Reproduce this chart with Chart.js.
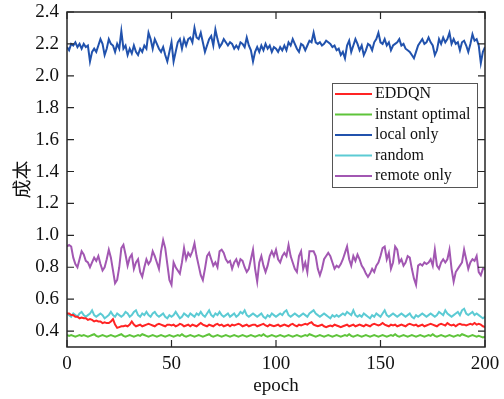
<!DOCTYPE html>
<html>
<head>
<meta charset="utf-8">
<script src="https://cdn.jsdelivr.net/npm/chart.js@4.4.1/dist/chart.umd.min.js"></script>
<style>
html,body{margin:0;padding:0;background:#fff;}
#wrap{position:relative;width:504px;height:399px;}
</style>
</head>
<body>
<div id="wrap"><canvas id="c" width="504" height="399"></canvas></div>
<script>
const seriesNames = ["EDDQN", "instant optimal", "local only", "random", "remote only"];
const seriesColors = ["#ff2424", "#5ec43a", "#2152ad", "#5ccbd4", "#a257b2"];
const xTicks = [0, 50, 100, 150, 200];
const yTicks = [0.4, 0.6, 0.8, 1.0, 1.2, 1.4, 1.6, 1.8, 2.0, 2.2, 2.4];
const xTitle = "epoch";
const yTitle = "成本";

const eddqn = [
0.51,0.51,0.50,0.50,0.49,0.49,0.48,0.485,0.48,0.48,
0.47,0.475,0.47,0.46,0.465,0.46,0.46,0.45,0.455,0.45,
0.45,0.46,0.475,0.44,0.42,0.425,0.43,0.43,0.435,0.43,
0.44,0.46,0.44,0.43,0.435,0.44,0.43,0.435,0.44,0.445,
0.44,0.435,0.43,0.44,0.445,0.44,0.435,0.43,0.44,0.44,
0.435,0.44,0.43,0.435,0.445,0.44,0.43,0.435,0.44,0.43,
0.44,0.435,0.43,0.44,0.45,0.44,0.435,0.43,0.44,0.435,
0.43,0.44,0.445,0.435,0.44,0.43,0.435,0.44,0.43,0.44,
0.435,0.44,0.445,0.44,0.43,0.435,0.44,0.43,0.435,0.44,
0.44,0.43,0.435,0.44,0.445,0.435,0.43,0.44,0.435,0.43,
0.435,0.44,0.43,0.435,0.44,0.435,0.43,0.44,0.445,0.435,
0.43,0.44,0.435,0.44,0.445,0.44,0.45,0.455,0.44,0.435,
0.43,0.435,0.44,0.43,0.425,0.43,0.435,0.43,0.44,0.435,
0.43,0.425,0.43,0.435,0.44,0.43,0.435,0.44,0.43,0.435,
0.44,0.435,0.43,0.44,0.435,0.43,0.44,0.445,0.44,0.435,
0.44,0.45,0.44,0.435,0.43,0.44,0.435,0.44,0.43,0.435,
0.44,0.435,0.43,0.44,0.445,0.44,0.435,0.44,0.43,0.435,
0.44,0.43,0.435,0.44,0.445,0.44,0.435,0.43,0.44,0.445,
0.44,0.435,0.45,0.44,0.435,0.44,0.43,0.44,0.445,0.44,
0.44,0.435,0.44,0.445,0.44,0.45,0.44,0.445,0.44,0.43,
0.425];

const instantOptimal = [
0.375,0.37,0.375,0.37,0.365,0.37,0.375,0.37,0.375,0.37,
0.365,0.37,0.375,0.38,0.37,0.365,0.37,0.375,0.37,0.365,
0.37,0.375,0.37,0.365,0.37,0.375,0.38,0.37,0.365,0.37,
0.375,0.37,0.365,0.37,0.375,0.37,0.38,0.375,0.37,0.365,
0.37,0.375,0.37,0.365,0.37,0.375,0.37,0.365,0.37,0.375,
0.37,0.365,0.37,0.375,0.37,0.38,0.37,0.365,0.37,0.375,
0.37,0.365,0.37,0.375,0.37,0.365,0.37,0.375,0.38,0.37,
0.365,0.37,0.375,0.37,0.365,0.37,0.375,0.37,0.365,0.37,
0.375,0.37,0.365,0.37,0.375,0.37,0.365,0.37,0.375,0.37,
0.365,0.37,0.375,0.37,0.38,0.37,0.365,0.37,0.375,0.37,
0.365,0.37,0.375,0.37,0.365,0.37,0.375,0.37,0.365,0.37,
0.375,0.37,0.365,0.37,0.375,0.37,0.38,0.375,0.37,0.365,
0.37,0.375,0.37,0.365,0.37,0.375,0.37,0.365,0.37,0.375,
0.37,0.365,0.37,0.375,0.37,0.38,0.37,0.365,0.37,0.375,
0.37,0.365,0.37,0.375,0.37,0.365,0.37,0.375,0.37,0.365,
0.37,0.375,0.37,0.365,0.37,0.375,0.37,0.38,0.37,0.365,
0.37,0.375,0.37,0.365,0.37,0.375,0.37,0.365,0.37,0.375,
0.37,0.365,0.37,0.375,0.37,0.38,0.37,0.365,0.37,0.375,
0.37,0.365,0.37,0.375,0.37,0.365,0.37,0.375,0.37,0.38,
0.375,0.37,0.365,0.37,0.375,0.37,0.365,0.37,0.365,0.36,
0.365];

const localOnly = [
2.18,2.16,2.20,2.19,2.21,2.18,2.20,2.17,2.20,2.18,
2.19,2.09,2.15,2.17,2.15,2.19,2.23,2.20,2.13,2.17,
2.23,2.20,2.19,2.15,2.20,2.17,2.28,2.17,2.19,2.13,
2.17,2.14,2.19,2.15,2.13,2.17,2.15,2.19,2.17,2.27,
2.23,2.17,2.23,2.20,2.17,2.15,2.18,2.13,2.09,2.15,
2.21,2.09,2.15,2.21,2.23,2.17,2.23,2.19,2.23,2.24,
2.21,2.30,2.24,2.23,2.27,2.21,2.15,2.19,2.23,2.25,
2.19,2.29,2.23,2.18,2.20,2.23,2.21,2.19,2.21,2.20,
2.17,2.19,2.17,2.21,2.20,2.18,2.24,2.19,2.16,2.09,
2.15,2.18,2.15,2.19,2.16,2.20,2.17,2.19,2.15,2.18,
2.17,2.15,2.18,2.16,2.19,2.16,2.21,2.19,2.23,2.20,
2.17,2.15,2.20,2.19,2.16,2.19,2.22,2.21,2.27,2.21,
2.20,2.21,2.19,2.20,2.22,2.21,2.20,2.18,2.19,2.16,
2.17,2.13,2.15,2.11,2.19,2.22,2.15,2.19,2.23,2.20,
2.16,2.19,2.13,2.16,2.20,2.19,2.16,2.21,2.23,2.27,
2.21,2.20,2.23,2.19,2.21,2.16,2.19,2.20,2.21,2.23,
2.19,2.20,2.17,2.16,2.15,2.13,2.11,2.15,2.19,2.21,
2.23,2.20,2.21,2.24,2.21,2.19,2.13,2.16,2.23,2.20,
2.24,2.21,2.23,2.27,2.20,2.23,2.20,2.21,2.16,2.21,
2.22,2.19,2.15,2.20,2.26,2.22,2.23,2.19,2.08,2.15,
2.18];

const randomPolicy = [
0.51,0.50,0.49,0.51,0.50,0.49,0.51,0.52,0.50,0.49,
0.50,0.51,0.53,0.50,0.49,0.50,0.51,0.50,0.48,0.49,
0.50,0.52,0.50,0.49,0.51,0.50,0.49,0.50,0.52,0.51,
0.49,0.50,0.52,0.53,0.50,0.49,0.51,0.50,0.52,0.50,
0.49,0.51,0.52,0.50,0.49,0.50,0.51,0.49,0.48,0.50,
0.49,0.50,0.52,0.50,0.48,0.49,0.51,0.50,0.49,0.51,
0.50,0.49,0.51,0.50,0.52,0.50,0.49,0.51,0.53,0.50,
0.49,0.51,0.50,0.52,0.50,0.49,0.50,0.51,0.49,0.50,
0.51,0.49,0.50,0.52,0.51,0.53,0.50,0.49,0.50,0.51,
0.50,0.49,0.50,0.51,0.49,0.48,0.50,0.49,0.51,0.50,
0.49,0.50,0.51,0.50,0.52,0.53,0.50,0.49,0.50,0.51,
0.50,0.49,0.50,0.51,0.50,0.49,0.51,0.52,0.53,0.51,
0.50,0.49,0.50,0.51,0.50,0.49,0.48,0.50,0.49,0.50,
0.49,0.50,0.51,0.50,0.52,0.51,0.50,0.53,0.50,0.49,
0.50,0.49,0.51,0.50,0.49,0.48,0.50,0.49,0.51,0.50,
0.49,0.51,0.53,0.50,0.49,0.50,0.51,0.50,0.49,0.50,
0.51,0.50,0.49,0.50,0.51,0.49,0.48,0.50,0.49,0.50,
0.51,0.50,0.49,0.50,0.51,0.50,0.49,0.50,0.52,0.51,
0.50,0.53,0.51,0.50,0.49,0.50,0.51,0.52,0.50,0.53,
0.54,0.51,0.50,0.51,0.52,0.50,0.51,0.50,0.49,0.48,
0.49];

const remoteOnly = [
0.93,0.94,0.93,0.86,0.82,0.80,0.85,0.90,0.88,0.84,
0.83,0.80,0.83,0.86,0.84,0.87,0.82,0.78,0.80,0.85,
0.91,0.86,0.78,0.70,0.72,0.80,0.92,0.94,0.88,0.81,
0.86,0.88,0.79,0.83,0.85,0.77,0.74,0.80,0.85,0.82,
0.84,0.90,0.87,0.83,0.79,0.90,0.97,0.92,0.82,0.72,
0.69,0.83,0.80,0.78,0.76,0.83,0.92,0.85,0.89,0.87,
0.90,0.95,0.87,0.81,0.75,0.72,0.79,0.87,0.89,0.85,
0.81,0.83,0.80,0.90,0.91,0.89,0.85,0.83,0.84,0.79,
0.83,0.85,0.81,0.85,0.84,0.80,0.77,0.79,0.85,0.91,
0.79,0.71,0.83,0.87,0.81,0.77,0.81,0.87,0.90,0.87,
0.91,0.85,0.83,0.87,0.89,0.87,0.94,0.87,0.83,0.79,
0.77,0.87,0.90,0.79,0.83,0.77,0.90,0.90,0.90,0.87,
0.79,0.75,0.79,0.85,0.87,0.89,0.87,0.83,0.79,0.81,
0.80,0.82,0.85,0.89,0.93,0.85,0.81,0.87,0.84,0.88,
0.85,0.81,0.79,0.76,0.74,0.76,0.79,0.77,0.81,0.83,
0.87,0.92,0.93,0.85,0.89,0.79,0.83,0.93,0.91,0.83,
0.85,0.81,0.83,0.87,0.86,0.79,0.73,0.69,0.81,0.82,
0.81,0.83,0.82,0.83,0.85,0.81,0.91,0.81,0.79,0.83,
0.85,0.83,0.85,0.91,0.79,0.71,0.77,0.79,0.81,0.83,
0.91,0.85,0.79,0.83,0.85,0.84,0.87,0.77,0.75,0.79,
0.79];

const allSeries = [eddqn, instantOptimal, localOnly, randomPolicy, remoteOnly];
const FONT = "'Liberation Serif', 'Times New Roman', 'Noto Sans CJK SC', serif";
const AXIS = "#262626";

const datasets = allSeries.map((arr, k) => ({
  label: seriesNames[k],
  data: arr.map((v, i) => ({x: i, y: v})),
  borderColor: seriesColors[k],
  backgroundColor: seriesColors[k],
  borderWidth: 2,
  pointRadius: 0,
  tension: 0,
  fill: false
}));

const boxPlugin = {
  id: 'boxTicks',
  afterDraw(chart) {
    const ctx = chart.ctx;
    const a = chart.chartArea;
    const xs = chart.scales.x, ys = chart.scales.y;
    const L = 7;
    ctx.save();
    ctx.strokeStyle = AXIS;
    ctx.lineWidth = 1.5;
    ctx.beginPath();
    ctx.rect(a.left, a.top, a.right - a.left, a.bottom - a.top);
    ctx.stroke();
    ctx.lineWidth = 1.2;
    ctx.beginPath();
    yTicks.forEach(v => {
      const y = ys.getPixelForValue(v);
      ctx.moveTo(a.left, y); ctx.lineTo(a.left + L, y);
      ctx.moveTo(a.right, y); ctx.lineTo(a.right - L, y);
    });
    xTicks.forEach(v => {
      const x = xs.getPixelForValue(v);
      ctx.moveTo(x, a.bottom); ctx.lineTo(x, a.bottom - L);
      ctx.moveTo(x, a.top); ctx.lineTo(x, a.top + L);
    });
    ctx.stroke();

    // legend
    const bx = 332, by = 83, bw = 145, bh = 104;
    ctx.fillStyle = '#fff';
    ctx.fillRect(bx, by, bw, bh);
    ctx.strokeStyle = '#555';
    ctx.lineWidth = 1;
    ctx.strokeRect(bx + 0.5, by + 0.5, bw, bh);
    ctx.font = "16px " + FONT;
    ctx.textBaseline = 'middle';
    ctx.textAlign = 'left';
    chart.data.datasets.forEach((ds, k) => {
      const yy = by + 11 + k * 20.5;
      ctx.strokeStyle = ds.borderColor;
      ctx.lineWidth = 2;
      ctx.beginPath();
      ctx.moveTo(bx + 3, yy); ctx.lineTo(bx + 40, yy);
      ctx.stroke();
      ctx.fillStyle = '#111';
      ctx.fillText(ds.label, bx + 43, yy);
    });
    ctx.restore();
  }
};

new Chart(document.getElementById('c'), {
  type: 'line',
  data: { datasets },
  options: {
    responsive: false,
    animation: false,
    devicePixelRatio: 1,
    layout: { padding: { left: 0, right: 19, top: 12, bottom: 0 } },
    plugins: { legend: { display: false }, tooltip: { enabled: false } },
    scales: {
      x: {
        type: 'linear',
        min: 0, max: 200,
        grid: { display: false, drawTicks: false },
        border: { display: false },
        afterBuildTicks: s => { s.ticks = xTicks.map(v => ({ value: v })); },
        afterFit: s => { s.height = 52; s.paddingLeft = 0; s.paddingRight = 0; },
        ticks: { color: '#111', font: { family: FONT, size: 19 }, padding: 6, maxRotation: 0 },
        title: { display: true, text: xTitle, color: '#111', font: { family: FONT, size: 19 }, padding: { top: 0, bottom: 2 } }
      },
      y: {
        type: 'linear',
        min: 0.3, max: 2.4,
        grid: { display: false, drawTicks: false },
        border: { display: false },
        afterBuildTicks: s => { s.ticks = yTicks.map(v => ({ value: v })); },
        afterFit: s => { s.width = 67; s.paddingTop = 0; s.paddingBottom = 0; },
        ticks: { color: '#111', font: { family: FONT, size: 19 }, padding: 8, callback: v => Number(v).toFixed(1) },
        title: { display: true, text: yTitle, color: '#111', font: { family: FONT, size: 19 }, padding: { top: 13, bottom: 0 } }
      }
    }
  },
  plugins: [boxPlugin]
});
</script>
</body>
</html>
